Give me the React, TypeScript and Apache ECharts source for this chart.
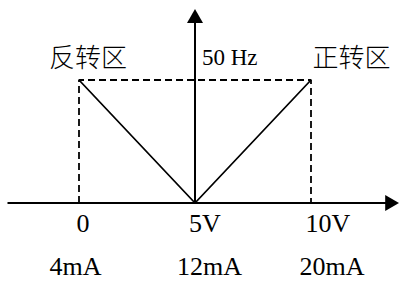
import React, { useEffect, useRef } from 'react';
import * as echarts from 'echarts';

// Tick values (volts) and their two rows of labels
const voltTicks = [0, 5, 10];
const voltLabels = ['0', '5V', '10V'];
const currentLabels = ['4mA', '12mA', '20mA'];

// V-shaped frequency characteristic (volts -> Hz)
const vShapeVolts = [0, 5, 10];
const vShapeFreq = [50, 0, 50];

// Dashed boundary box (volts -> Hz)
const boundaryVolts = [0, 0, 10, 10];
const boundaryFreq = [0, 50, 50, 0];

// Region annotations
const regionNames = ['反转区', '正转区'];
const regionVolts = [0, 10];
const regionFreq = [50, 50];

// Rated frequency annotation
const ratedVolt = 5;
const ratedFreq = 50;
const ratedLabel = '50 Hz';

// Axis extents
const xMin = -3.05;
const xMax = 13.5;
const yMin = 0;
const yMax = 80;
const yArrowEnd = 76;

const SERIF = '"Liberation Serif", "Times New Roman", serif';
const CJK = '"Noto Sans CJK SC", "Noto Sans CJK JP", sans-serif';

// Horizontal shift (px) of each label row relative to its tick (layout only)
const row1Shift = [4, 10, 17];
const row2Shift = [-3.5, 14.5, 21];
const regionOffsets = [[9, -25], [40.5, -25]];

export default function App() {
  const ref = useRef<HTMLDivElement>(null);
  useEffect(() => {
    const chart = echarts.init(ref.current!, null, { renderer: 'svg' });
    const pad = (dx: number) => (dx >= 0 ? [0, 0, 0, 2 * dx] : [0, -2 * dx, 0, 0]);
    const rich: any = {};
    voltTicks.forEach((_, i) => {
      rich['a' + i] = {
        fontFamily: SERIF, fontSize: 26, lineHeight: 30, color: '#000',
        align: 'center', padding: pad(row1Shift[i]),
      };
      rich['b' + i] = {
        fontFamily: SERIF, fontSize: 26, lineHeight: 55, color: '#000',
        align: 'center', padding: pad(row2Shift[i]),
      };
    });
    const hiddenSymbol = {
      symbol: 'circle',
      symbolSize: 1,
      itemStyle: { color: 'rgba(0,0,0,0)' },
    };
    chart.setOption({
      animation: false,
      backgroundColor: '#fff',
      grid: { left: 8.24, right: 6.8, top: 6.2, bottom: 79, containLabel: false },
      xAxis: {
        type: 'value',
        min: xMin,
        max: xMax,
        axisLine: {
          show: true,
          symbol: ['none', 'triangle'],
          symbolSize: [16, 14],
          lineStyle: { color: '#000', width: 2 },
        },
        axisTick: { show: false },
        splitLine: { show: false },
        axisLabel: {
          customValues: voltTicks,
          margin: 5.5,
          color: '#000',
          formatter: (value: number) => {
            const i = voltTicks.indexOf(value);
            if (i < 0) return '';
            return `{a${i}|${voltLabels[i]}}\n{b${i}|${currentLabels[i]}}`;
          },
          rich,
        },
      },
      yAxis: { type: 'value', min: yMin, max: yMax, show: false },
      series: [
        {
          type: 'line',
          silent: true,
          z: 2,
          showSymbol: false,
          data: boundaryVolts.map((v, i) => [v, boundaryFreq[i]]),
          lineStyle: { color: '#000', width: 1.8, type: [7, 4] },
          markPoint: {
            silent: true,
            ...hiddenSymbol,
            data: [
              {
                name: ratedLabel,
                coord: [ratedVolt, ratedFreq],
                label: {
                  show: true,
                  position: 'inside',
                  formatter: '{b}',
                  offset: [7, -22.5],
                  align: 'left',
                  verticalAlign: 'middle',
                  fontFamily: SERIF,
                  fontSize: 23,
                  color: '#000',
                },
              },
            ],
          },
        },
        {
          type: 'line',
          silent: true,
          z: 3,
          showSymbol: false,
          data: vShapeVolts.map((v, i) => [v, vShapeFreq[i]]),
          lineStyle: { color: '#000', width: 1.8 },
          markPoint: {
            silent: true,
            ...hiddenSymbol,
            data: regionNames.map((n, i) => ({
              name: n,
              coord: [regionVolts[i], regionFreq[i]],
              label: {
                show: true,
                position: 'inside',
                formatter: '{b}',
                offset: regionOffsets[i],
                align: 'center',
                verticalAlign: 'middle',
                fontFamily: CJK,
                fontWeight: 300,
                fontSize: 26,
                color: '#000',
              },
            })),
          },
        },
        {
          type: 'line',
          silent: true,
          z: 4,
          data: [],
          markLine: {
            silent: true,
            symbol: ['none', 'triangle'],
            symbolSize: [16, 14],
            label: { show: false },
            emphasis: { disabled: true },
            lineStyle: { color: '#000', width: 2, type: 'solid' },
            data: [[{ coord: [ratedVolt, yMin] }, { coord: [ratedVolt, yArrowEnd] }]],
          },
        },
      ],
    });
    return () => chart.dispose();
  }, []);
  return (
    <div
      ref={ref}
      style={{ position: 'absolute', left: 0, top: 0, width: 399, height: 282, background: '#fff' }}
    />
  );
}
